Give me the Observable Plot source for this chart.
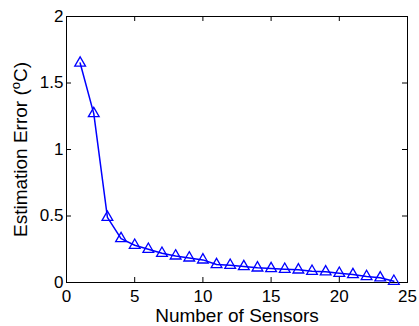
<!DOCTYPE html>
<html>
<head>
<meta charset="utf-8">
<script src="https://cdn.jsdelivr.net/npm/d3@7"></script>
<script src="https://cdn.jsdelivr.net/npm/@observablehq/plot@0.6"></script>
<style>
  html, body { margin: 0; padding: 0; background: #fff; }
  #chart svg { display: block; }
</style>
</head>
<body>
<div id="chart"></div>
<script>
const sensors = [1,2,3,4,5,6,7,8,9,10,11,12,13,14,15,16,17,18,19,20,21,22,23,24];
const errors = [1.65,1.27,0.49,0.33,0.28,0.25,0.22,0.20,0.185,0.17,0.135,0.13,0.12,0.11,0.105,0.10,0.095,0.085,0.08,0.07,0.06,0.045,0.035,0.01];
const xTicks = [0,5,10,15,20,25];
const yTicks = [0,0.5,1,1.5,2];
const xLabel = "Number of Sensors";
const yLabel = "Estimation Error (oC)";

const data = sensors.map((s, i) => ({s, e: errors[i]}));
const W = 419, H = 326;
const mL = 66, mR = 12, mT = 16, mB = 44;
const pw = W - mL - mR, ph = H - mT - mB;
const tickLen = 5;
const font = "'Liberation Sans', Arial, Helvetica, sans-serif";

const chart = Plot.plot({
  width: W, height: H,
  marginLeft: mL, marginRight: mR, marginTop: mT, marginBottom: mB,
  style: {fontFamily: font, fontSize: "17px", color: "#000", background: "#fff"},
  x: {domain: [0, 25]},
  y: {domain: [0, 2]},
  marks: [
    Plot.tickX(xTicks, {x: d => d, stroke: "#000", insetTop: ph - tickLen}),
    Plot.tickX(xTicks, {x: d => d, stroke: "#000", insetBottom: ph - tickLen}),
    Plot.tickY(yTicks, {y: d => d, stroke: "#000", insetRight: pw - tickLen}),
    Plot.tickY(yTicks, {y: d => d, stroke: "#000", insetLeft: pw - tickLen}),
    Plot.axisX({ticks: xTicks, tickSize: 0, tickPadding: 7, label: null, tickFormat: d => String(d)}),
    Plot.axisY({ticks: yTicks, tickSize: 0, tickPadding: 3, label: null, tickFormat: d => String(d)}),
    Plot.frame({stroke: "#000", strokeWidth: 1}),
    Plot.line(data, {x: "s", y: "e", stroke: "#0000ff", strokeWidth: 1.5}),
    Plot.dot(data, {x: "s", y: "e", symbol: "triangle", r: 4, stroke: "#0000ff", strokeWidth: 1.3, fill: "none"}),
    Plot.text([xLabel], {text: d => d, frameAnchor: "bottom", textAnchor: "middle", dy: 33, lineAnchor: "middle", fontSize: 19, fill: "#000"}),
    Plot.text([yLabel], {text: d => d, frameAnchor: "left", textAnchor: "middle", dx: -46, rotate: -90, lineAnchor: "middle", fontSize: 19, fill: "#000"})
  ]
});
document.getElementById("chart").appendChild(chart);

d3.select(chart).selectAll("text").each(function() {
  if (this.textContent === yLabel) {
    const t = d3.select(this);
    t.text(null);
    t.append("tspan").text("Estimation Error (");
    t.append("tspan").attr("baseline-shift", "super").attr("font-size", "13px").text("o");
    t.append("tspan").text("C)");
  }
});
</script>
</body>
</html>
